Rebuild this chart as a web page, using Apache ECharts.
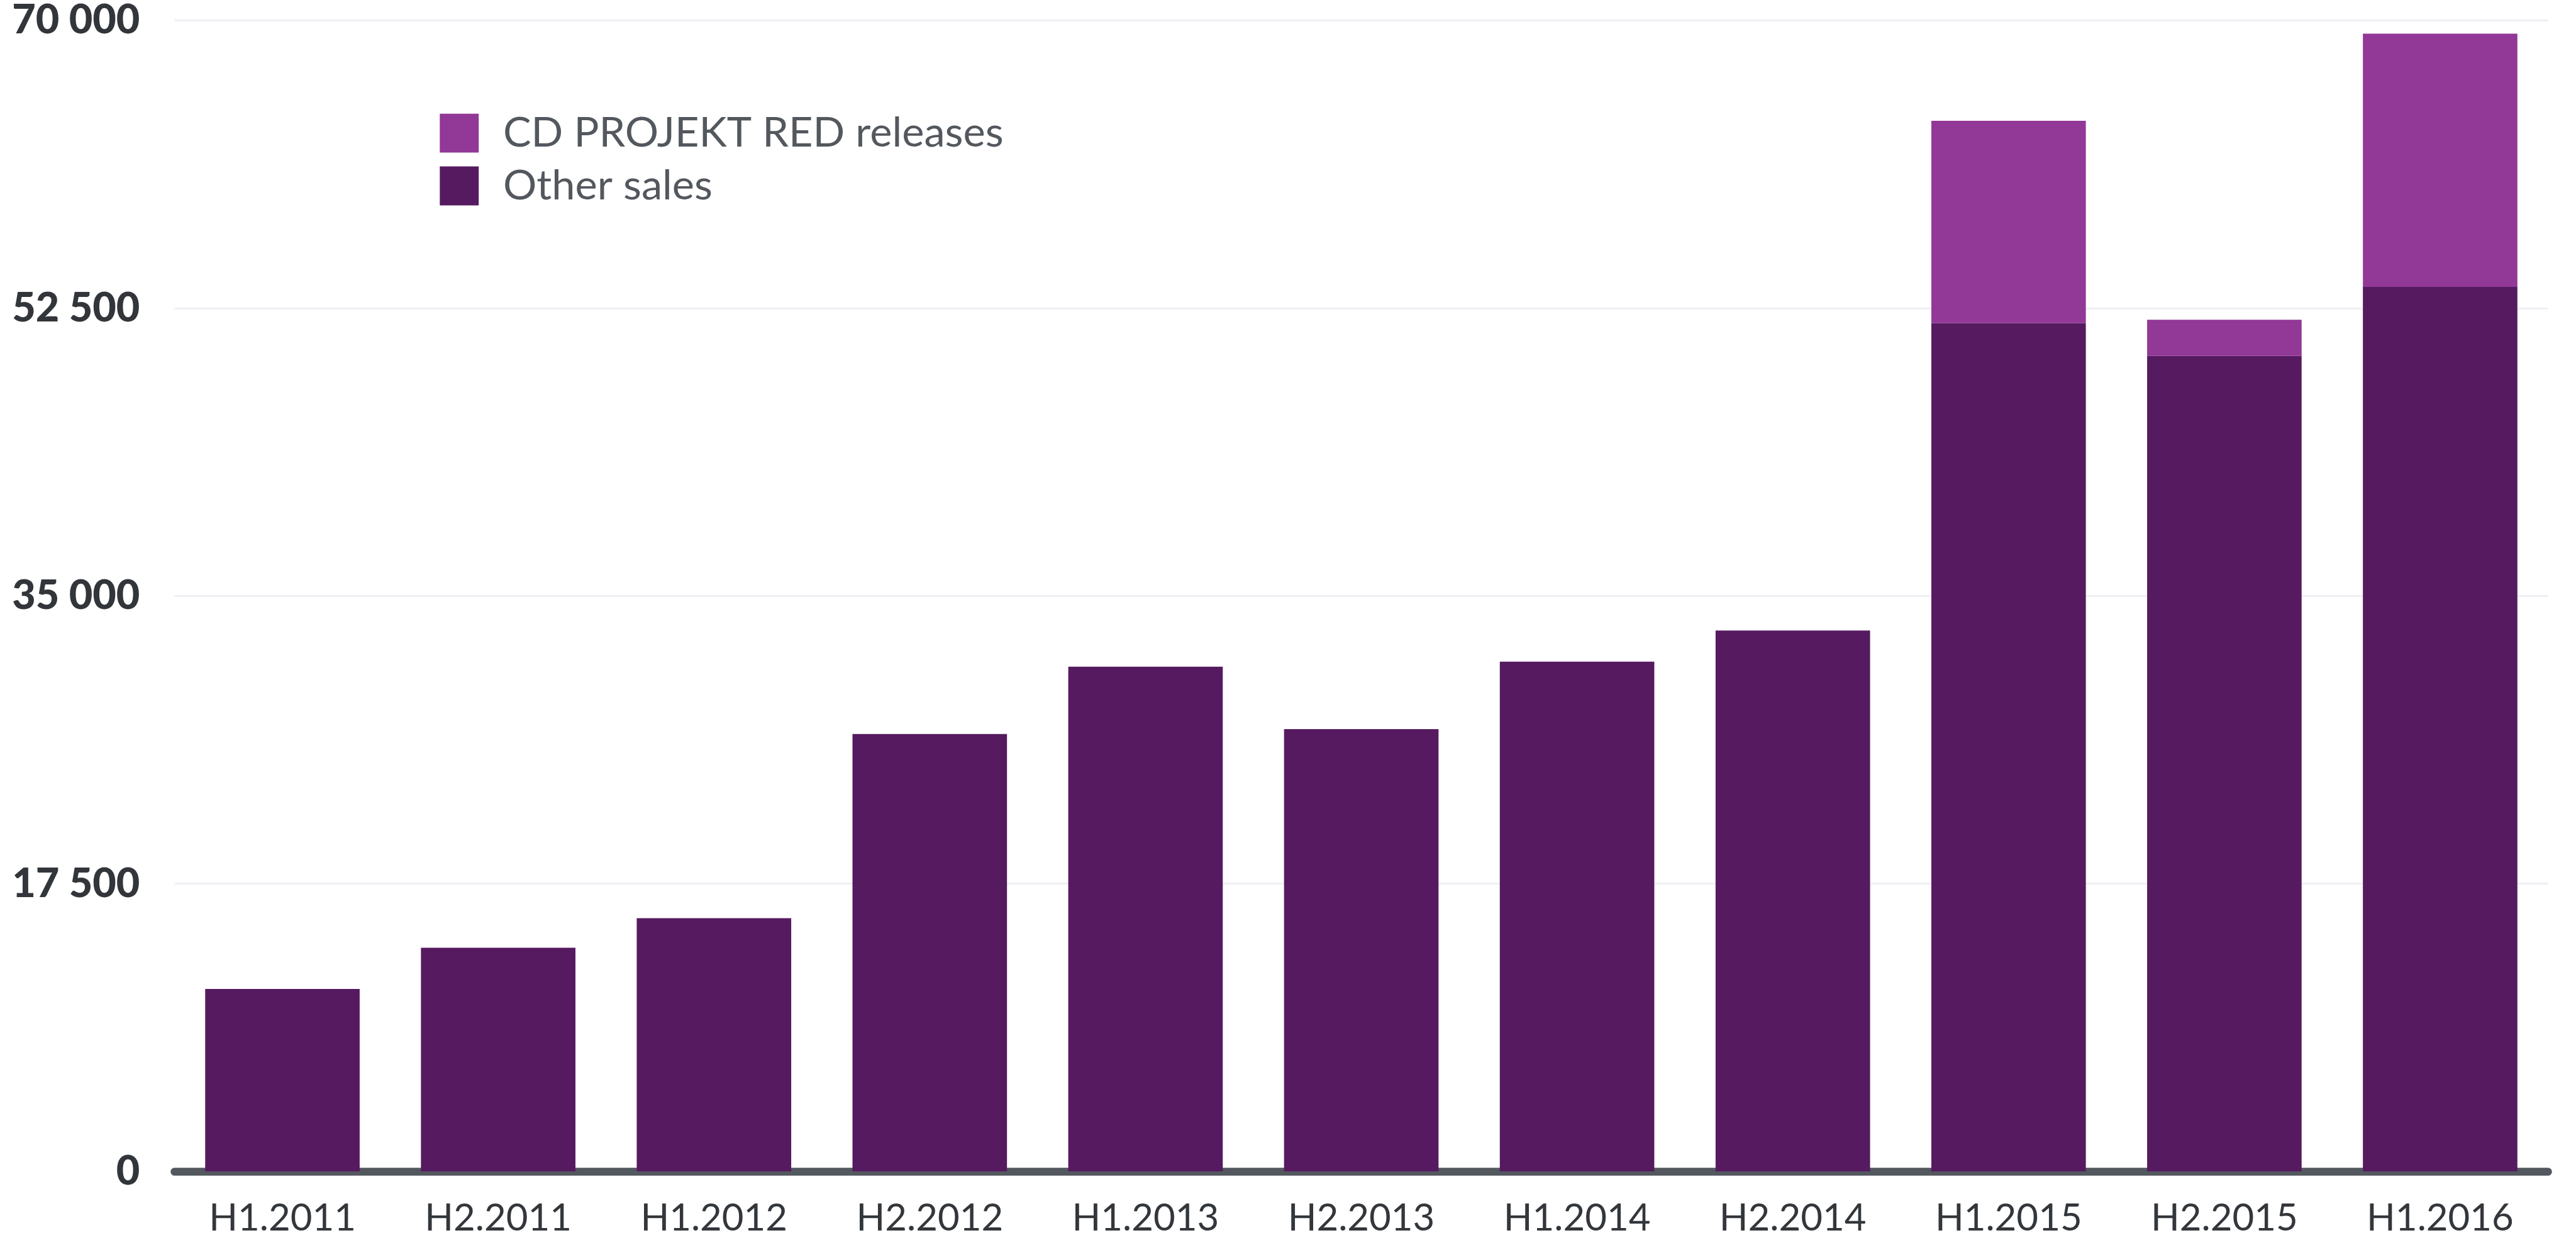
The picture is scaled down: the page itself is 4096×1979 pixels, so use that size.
<!DOCTYPE html>
<html>
<head>
<meta charset="utf-8">
<script src="https://cdn.jsdelivr.net/npm/echarts@6/dist/echarts.min.js"></script>
<style>
  html, body { margin: 0; padding: 0; background: #fff; }
  #chart { width: 4096px; height: 1979px; }
</style>
</head>
<body>
<div id="chart"></div>
<script>
// scale from the 4234px wide reference to the 4096px window
const S = 0.967;

const categories = ['H1.2011', 'H2.2011', 'H1.2012', 'H2.2012', 'H1.2013', 'H2.2013',
  'H1.2014', 'H2.2014', 'H1.2015', 'H2.2015', 'H1.2016'];
const otherSales = [11100, 13600, 15400, 26600, 30700, 26900, 31000, 32900, 51600, 49600, 53800];
const cdprReleases = [0, 0, 0, 0, 0, 0, 0, 0, 12300, 2200, 15400];
const yTicks = [0, 17500, 35000, 52500, 70000];

const fmt = v => String(v).replace(/\B(?=(\d{3})+(?!\d))/g, ' ');

const chart = echarts.init(document.getElementById('chart'));

const option = {
  animation: false,
  grid: {
    left: 287 * S,
    right: 46 * S,
    top: 32 * S,
    bottom: 121 * S,
    containLabel: false
  },
  legend: {
    data: ['CD PROJEKT RED releases', 'Other sales'],
    orient: 'vertical',
    left: 718 * S,
    top: 179 * S,
    icon: 'rect',
    itemWidth: 64 * S,
    itemHeight: 64 * S,
    itemGap: 17.5 * S,
    selectedMode: false,
    textStyle: {
      fontFamily: 'Lato',
      fontSize: 69 * S,
      color: '#53585e',
      padding: [0, 0, 0, 35 * S]
    }
  },
  xAxis: {
    type: 'category',
    data: categories,
    axisTick: { show: false },
    axisLine: {
      show: true,
      lineStyle: { color: '#53585e', width: 13 * S }
    },
    axisLabel: {
      fontFamily: 'Lato',
      fontSize: 62 * S,
      lineHeight: 62 * S,
      color: '#33373b',
      margin: 46 * S
    }
  },
  yAxis: {
    type: 'value',
    min: yTicks[0],
    max: yTicks[yTicks.length - 1],
    interval: yTicks[1] - yTicks[0],
    axisLine: { show: false },
    axisTick: { show: false },
    splitLine: {
      lineStyle: { color: '#efeff4', width: 3 * S }
    },
    axisLabel: {
      fontFamily: 'Lato',
      fontWeight: 900,
      fontSize: 67 * S,
      color: '#32363a',
      margin: 57 * S,
      formatter: fmt
    }
  },
  series: [
    {
      name: 'Other sales',
      type: 'bar',
      stack: 'total',
      barCategoryGap: '28.4%',
      itemStyle: { color: '#561a60' },
      data: otherSales
    },
    {
      name: 'CD PROJEKT RED releases',
      type: 'bar',
      stack: 'total',
      barCategoryGap: '28.4%',
      itemStyle: { color: '#923897' },
      data: cdprReleases
    }
  ]
};

chart.setOption(option);
</script>
</body>
</html>
